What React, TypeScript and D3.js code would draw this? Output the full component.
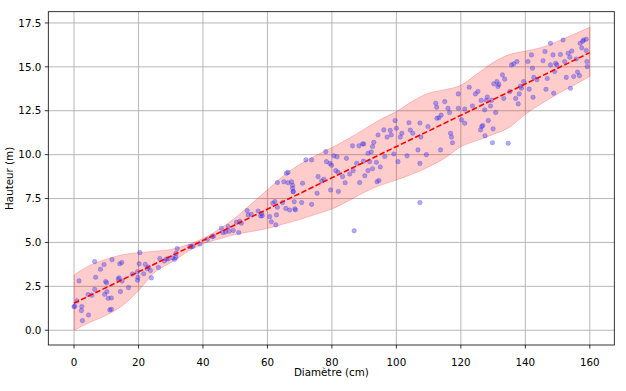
import React from 'react';
import * as d3 from 'd3';

// scatter points (diamètre cm, hauteur m)
const diametres: number[] = [
  0, 0.2, 0.9, 1.55, 2.3, 2.4, 2.6, 4.5, 4.35, 5.5, 6.4, 6.7, 6.4, 8.2, 9.3, 9.5, 9.8, 10.1, 10.2, 10.6,
  11.1, 11.6, 11.6, 11.8, 13.7, 14.0, 14.4, 14.2, 14.8, 14.9, 16.9, 18.1, 19.7, 19.8, 19.7, 20.4, 20.2, 21.6, 22.1, 22.7,
  23.1, 23.7, 24.0, 26.2, 26.6, 28.0, 28.7, 29.2, 30.6, 31.2, 31.6, 31.6, 32.0, 35.9, 36.4, 36.9, 39.0, 41.3, 42.9, 43.3,
  45.7, 46.2, 47.0, 47.8, 48.1, 49.4, 50.4, 51.1, 51.4, 51.9, 53.7, 54.0, 55.0, 57.1, 57.9, 58.4, 58.2, 60.7, 61.2, 61.7,
  62.3, 62.6, 62.8, 63.1, 64.7, 65.7, 66.9, 68.3, 68.5, 68.7, 68.0, 70.6, 73.7, 75.4,
  63.1, 65.1, 65.9, 66.4, 66.4, 67.5, 67.8, 67.8, 68.0, 70.9, 71.9, 73.7, 75.7,
  76.8, 77.5, 78.1, 78.3, 79.4, 79.6, 79.9, 80.6, 81.2, 81.6, 81.9, 83.3, 84.1, 84.5, 86.4, 86.6, 88.4, 88.6, 89.5, 89.9,
  89.8, 91.2, 91.2, 91.7, 92.2, 92.6, 92.6, 93.0, 93.8, 94.0, 94.3, 95.0, 94.6, 96.1, 96.4, 97.1, 98.1, 98.4, 99.2, 99.6,
  100.0, 100.5, 101.2, 101.7, 103.3, 103.9, 104.3, 105.1, 106.7, 107.3, 107.3, 107.6, 109.3, 109.8, 112.2, 112.5, 112.6, 113.2, 113.9, 113.7,
  115.0, 116.0, 116.5, 116.8, 117.1, 117.4, 119.2, 119.2, 120.2, 121.2, 121.2, 122.6, 123.6, 124.5, 125.3, 126.3, 126.1, 126.5, 126.8, 127.4,
  127.5, 127.9, 128.2, 128.5, 129.2, 129.5, 129.8, 130.0, 130.2, 130.8, 131.2, 131.5, 131.8, 132.9, 133.3, 133.6, 134.7, 135.2, 135.7, 136.4,
  137.0, 137.4, 137.8, 138.1, 138.5, 138.8, 139.5, 140.8, 141.2, 141.9, 142.2, 142.4, 142.6, 143.6, 145.5, 146.1, 146.4, 146.8, 147.8, 147.8,
  148.6, 148.8, 149.1, 149.4, 149.8, 150.9, 151.7, 152.2, 152.7, 153.3, 153.8, 154.0, 154.4, 155.0, 155.8, 156.2, 156.8, 157.0, 157.5, 157.8,
  158.1, 158.9, 158.9, 159.1, 159.2, 82.0, 85.5, 87.7, 90.2, 86.9, 107.3,
];
const hauteurs: number[] = [
  1.34, 1.37, 1.67, 2.81, 1.12, 1.35, 0.55, 0.87, 2.03, 2.0, 3.91, 3.02, 2.33, 3.47, 3.74, 2.05, 2.77, 2.7, 2.2, 1.82,
  1.16, 1.19, 1.84, 4.02, 2.92, 2.99, 2.2, 3.79, 3.86, 2.8, 2.43, 3.2, 2.85, 3.01, 3.33, 4.42, 3.78, 3.22, 3.75, 3.5,
  3.6, 3.4, 2.98, 3.57, 4.08, 3.94, 4.06, 4.06, 4.12, 4.04, 4.15, 4.38, 4.65, 4.76, 4.76, 4.78, 4.91, 5.18, 5.33, 5.36,
  5.81, 5.56, 5.6, 5.9, 5.64, 5.68, 6.15, 5.56, 6.2, 6.1, 6.81, 6.56, 6.6, 6.79, 6.51, 6.52, 6.65, 6.47, 6.18, 7.23,
  7.33, 6.0, 6.57, 7.0, 7.27, 6.94, 6.85, 7.32, 6.92, 6.85, 7.89, 7.27, 7.17, 7.8,
  8.41, 8.46, 8.94, 8.99, 8.4, 8.45, 8.25, 8.09, 7.9, 8.37, 9.7, 9.7, 8.75,
  8.5, 8.6, 10.17, 9.6, 9.5, 7.99, 9.4, 9.93, 9.09, 9.88, 9.0, 8.75, 8.4, 9.79, 10.5, 9.09, 10.5, 8.41, 10.61, 10.61,
  9.63, 10.08, 9.09, 9.6, 10.15, 10.46, 9.2, 10.7, 9.57, 8.46, 11.12, 9.3, 8.53, 11.41, 9.89, 11.0, 11.38, 11.12, 10.04, 11.94,
  11.5, 9.6, 11.0, 11.22, 9.93, 11.82, 11.4, 11.22, 10.27, 11.8, 9.5, 11.0, 10.0, 11.6, 12.93, 12.7, 12.07, 12.1, 12.25, 10.27,
  13.02, 12.64, 12.4, 11.22, 11.0, 10.68, 13.46, 12.64, 11.98, 11.79, 12.6, 13.84, 12.77, 13.46, 13.6, 13.09, 11.41, 11.6, 11.66, 12.55,
  11.07, 13.1, 13.28, 11.94, 12.77, 13.09, 10.68, 11.47, 14.03, 12.4, 14.16, 13.88, 14.0, 14.54, 13.2, 14.3, 10.65, 13.59, 15.11, 15.17,
  13.2, 15.3, 12.89, 13.46, 13.9, 13.78, 14.16, 15.3, 13.73, 15.68, 14.92, 13.27, 14.4, 14.27, 15.35, 15.87, 13.72, 14.34, 16.34, 15.11,
  15.68, 13.5, 14.73, 15.2, 15.11, 15.7, 16.53, 15.3, 14.4, 15.77, 15.55, 13.78, 15.9, 14.45, 15.45, 14.7, 14.5, 16.34, 16.08, 16.46,
  16.53, 16.57, 15.93, 15.3, 15.01, 7.9, 8.9, 9.5, 8.8, 5.67, 7.27,
];

// fitted line
const fitX: number[] = [0, 40, 80, 120, 160];
const fitY: number[] = [1.54, 5.11, 8.68, 12.24, 15.81];

// confidence band
const bandX: number[] = [0, 5, 10, 15, 20, 25, 30, 35, 40, 45, 50, 55, 60, 65, 70, 75, 80,
  85, 90, 95, 100, 105, 110, 115, 120, 125, 130, 135, 140, 145, 150, 155, 160];
const bandHigh: number[] = [3.15, 3.7, 4.05, 4.3, 4.42, 4.5, 4.6, 4.85, 5.22, 5.75, 6.4, 7.2, 8.0, 8.8, 9.45, 9.95, 10.4,
  10.9, 11.45, 12.0, 12.45, 13.05, 13.5, 13.7, 13.95, 14.6, 15.25, 15.7, 15.9, 16.1, 16.45, 16.85, 17.25];
const bandLow: number[] = [0.0, 0.45, 0.85, 1.4, 2.25, 3.3, 3.85, 4.45, 4.92, 5.2, 5.45, 5.62, 5.8, 6.05, 6.3, 6.6, 6.9,
  7.35, 7.85, 8.25, 8.55, 8.9, 9.3, 9.8, 10.45, 10.8, 11.15, 11.55, 12.3, 12.9, 13.45, 13.95, 14.45];

const xTicks: number[] = [0, 20, 40, 60, 80, 100, 120, 140, 160];
const yTicks: number[] = [0, 2.5, 5, 7.5, 10, 12.5, 15, 17.5];

const W = 626;
const H = 391;
const left = 48.3, right = 614.3, top = 11.7, bottom = 345;
const font = 'DejaVu Sans, sans-serif';

export default function App() {
  const x = d3.scaleLinear().domain([-7.98, 167.6]).range([left, right]);
  const y = d3.scaleLinear().domain([-0.84, 18.14]).range([bottom, top]);

  const band = d3.area<number>()
    .x((d) => x(d))
    .y0((_, i) => y(bandLow[i]))
    .y1((_, i) => y(bandHigh[i]))
    .curve(d3.curveMonotoneX);

  const fit = d3.line<number>()
    .x((d) => x(d))
    .y((_, i) => y(fitY[i]));

  return (
    <svg width={W} height={H} style={{ position: 'absolute', left: 0, top: 0, background: '#fff' }}>
      <defs>
        <clipPath id="plot">
          <rect x={left} y={top} width={right - left} height={bottom - top} />
        </clipPath>
      </defs>
      {/* grid */}
      {xTicks.map((t) => (
        <line key={'gx' + t} x1={x(t)} x2={x(t)} y1={top} y2={bottom} stroke="#b0b0b0" strokeWidth={0.9} />
      ))}
      {yTicks.map((t) => (
        <line key={'gy' + t} x1={left} x2={right} y1={y(t)} y2={y(t)} stroke="#b0b0b0" strokeWidth={0.9} />
      ))}
      <g clipPath="url(#plot)">
        <path d={band(bandX) ?? ''} fill="red" fillOpacity={0.2} stroke="red" strokeOpacity={0.2} strokeWidth={1} />
        {diametres.map((d, i) => (
          <circle key={i} cx={x(d)} cy={y(hauteurs[i])} r={2.3}
            fill="#3a3aff" fillOpacity={0.42} stroke="#3020b0" strokeOpacity={0.3} strokeWidth={0.6} />
        ))}
        <path d={fit(fitX) ?? ''} fill="none" stroke="red" strokeWidth={1.6} strokeDasharray="5.5,2.4" />
      </g>
      {/* frame */}
      <rect x={left} y={top} width={right - left} height={bottom - top} fill="none" stroke="#000" strokeWidth={0.8} />
      {xTicks.map((t) => (
        <g key={'tx' + t}>
          <line x1={x(t)} x2={x(t)} y1={bottom} y2={bottom + 3.5} stroke="#000" strokeWidth={0.8} />
          <text x={x(t)} y={365.5} textAnchor="middle" fontFamily={font} fontSize={10.3} fill="#000">{t}</text>
        </g>
      ))}
      {yTicks.map((t) => (
        <g key={'ty' + t}>
          <line x1={left - 3.5} x2={left} y1={y(t)} y2={y(t)} stroke="#000" strokeWidth={0.8} />
          <text x={left - 7} y={y(t)} dy="0.36em" textAnchor="end" fontFamily={font} fontSize={10.3} fill="#000">{t.toFixed(1)}</text>
        </g>
      ))}
      <text x={(left + right) / 2} y={376} textAnchor="middle" fontFamily={font} fontSize={10.3} fill="#000">Diamètre (cm)</text>
      <text transform={`translate(12.5,${(top + bottom) / 2}) rotate(-90)`} textAnchor="middle" fontFamily={font} fontSize={10.3} fill="#000">Hauteur (m)</text>
    </svg>
  );
}
